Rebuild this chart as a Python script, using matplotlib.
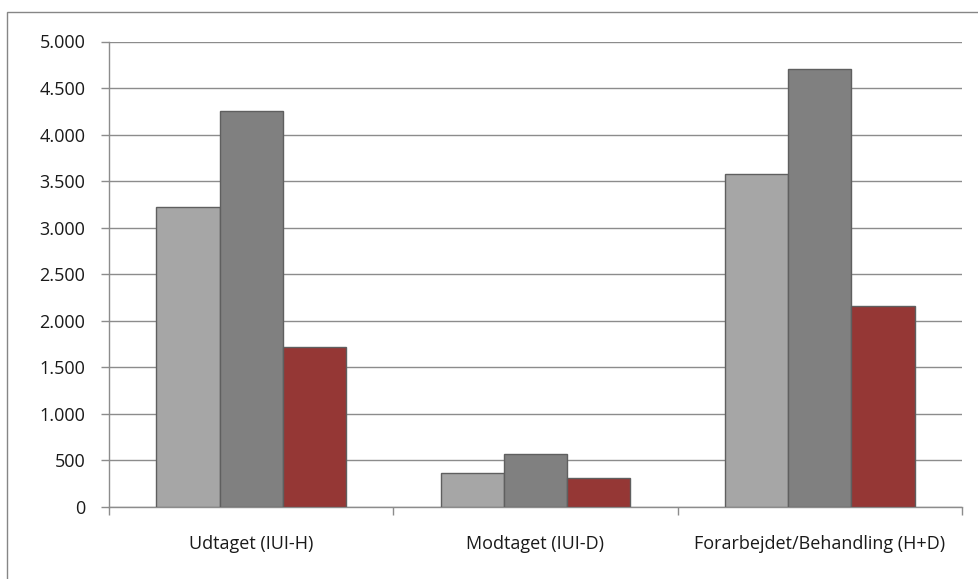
import matplotlib.pyplot as plt
import numpy as np
from matplotlib.patches import Rectangle
from matplotlib.ticker import FuncFormatter

categories = ["Udtaget (IUI-H)", "Modtaget (IUI-D)", "Forarbejdet/Behandling (H+D)"]
series_1 = [3220, 360, 3580]
series_2 = [4250, 565, 4700]
series_3 = [1720, 310, 2160]
colors = ["#A6A6A6", "#808080", "#953735"]

plt.rcParams["font.family"] = ["Open Sans", "DejaVu Sans"]

fig = plt.figure(figsize=(9.79, 5.79), dpi=100)
ax = fig.add_axes([109 / 979, 1 - 507 / 579, 853 / 979, 465.5 / 579])

# outer chart border (right/bottom run off the image)
fig.patches.append(Rectangle((7 / 979, -0.05), 1.2, 1 - 12 / 579 + 0.05,
                             transform=fig.transFigure, fill=False,
                             edgecolor="#868686", linewidth=1.0))

x = np.arange(len(categories))
width = 1 / 4.5
for i, (vals, c) in enumerate(zip([series_1, series_2, series_3], colors)):
    ax.bar(x + (i - 1) * width, vals, width, color=c, edgecolor="#5F5F5F",
           linewidth=1.0, zorder=3)

ax.set_xlim(-0.5, len(categories) - 0.5)
ax.set_ylim(0, 5000)
ax.set_yticks(np.arange(0, 5001, 500))
ax.yaxis.set_major_formatter(FuncFormatter(lambda v, p: f"{int(v):,}".replace(",", ".")))
ax.grid(axis="y", color="#8C8C8C", linewidth=1.0, zorder=0)

ax.set_xticks(x)
ax.set_xticklabels(categories)
ax.set_xticks(np.arange(-0.5, len(categories)), minor=True)
ax.tick_params(axis="x", which="major", length=0, pad=20, labelsize=13, labelcolor="#1a1a1a")
ax.tick_params(axis="x", which="minor", length=6, color="#8C8C8C", width=1.0)
ax.tick_params(axis="y", length=6, color="#8C8C8C", width=1.0, pad=11, labelsize=13, labelcolor="#1a1a1a")

for s in ["top", "right"]:
    ax.spines[s].set_visible(False)
for s in ["left", "bottom"]:
    ax.spines[s].set_color("#8C8C8C")
    ax.spines[s].set_linewidth(1.0)

fig.savefig("out.png", dpi=100)
